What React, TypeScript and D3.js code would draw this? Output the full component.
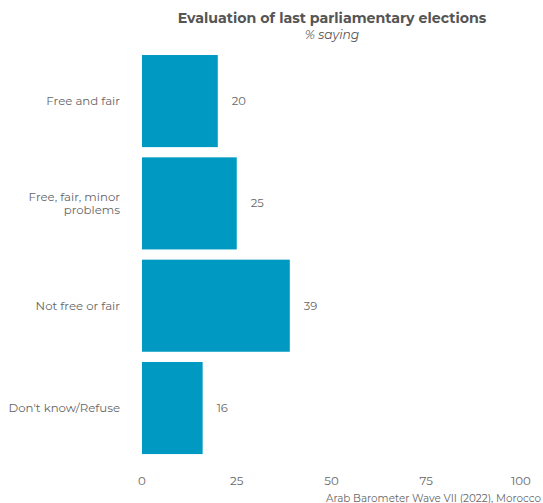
import React from "react";
import * as d3 from "d3";

const categories = ["Free and fair", "Free, fair, minor problems", "Not free or fair", "Don't know/Refuse"];
const labelLines = [["Free and fair"], ["Free, fair, minor", "problems"], ["Not free or fair"], ["Don't know/Refuse"]];
const values = [20, 25, 39, 16];
const xTicks = [0, 25, 50, 75, 100];

const W = 543, H = 503;
const FONT = "Montserrat, 'Noto Sans', sans-serif";

export default function App() {
  const x = d3.scaleLinear().domain([0, 100]).range([142, 521]);
  const y = d3.scaleBand<string>().domain(categories).range([44.8, 464.3]).paddingInner(0.1).paddingOuter(0.1);
  const bw = y.bandwidth();
  return (
    <svg width={W} height={H} style={{ position: "absolute", left: 0, top: 0 }} fontFamily={FONT}>
      <rect width={W} height={H} fill="#fff" />
      <text x={332} y={23} textAnchor="middle" fontSize={14.2} fontWeight="bold" fill="#555">Evaluation of last parliamentary elections</text>
      <text x={332} y={39} textAnchor="middle" fontSize={12.3} fontStyle="italic" fill="#555">% saying</text>
      {categories.map((c, i) => {
        const yc = (y(c) as number) + bw / 2;
        const lines = labelLines[i];
        return (
          <g key={c}>
            <rect x={x(0)} y={y(c)} width={x(values[i]) - x(0)} height={bw} fill="#0099C2" />
            <text x={x(values[i]) + 14} y={yc + 4} fontSize={11.5} fill="#666">{values[i]}</text>
            {lines.map((l, j) => (
              <text key={j} x={120} y={yc + 4 + (j - (lines.length - 1) / 2) * 13} textAnchor="end" fontSize={11.75} fill="#666">{l}</text>
            ))}
          </g>
        );
      })}
      {xTicks.map(t => (
        <text key={t} x={x(t)} y={485} textAnchor="middle" fontSize={11.75} fill="#666">{t}</text>
      ))}
      <text x={541} y={502} textAnchor="end" fontSize={10.4} fill="#666">Arab Barometer Wave VII (2022), Morocco</text>
    </svg>
  );
}
